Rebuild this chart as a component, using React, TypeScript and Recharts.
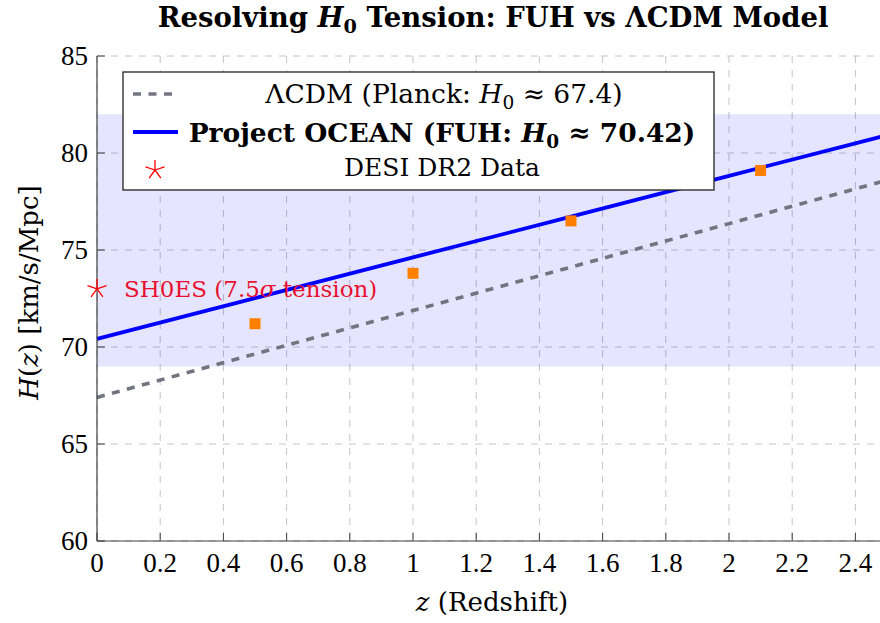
import React from 'react';
import { ComposedChart, Line, Scatter, XAxis, YAxis, CartesianGrid, ReferenceArea, Label } from 'recharts';

// axis ticks
const X_TICKS = [0, 0.2, 0.4, 0.6, 0.8, 1, 1.2, 1.4, 1.6, 1.8, 2, 2.2, 2.4];
const X_TICK_LABELS = ['0', '0.2', '0.4', '0.6', '0.8', '1', '1.2', '1.4', '1.6', '1.8', '2', '2.2', '2.4'];
const Y_TICKS = [60, 65, 70, 75, 80, 85];

// model curves
const Z_MODEL = [0, 0.5, 1, 1.5, 2, 2.5];
const H_LCDM = [67.4, 69.64, 71.88, 74.12, 76.36, 78.6];
const H_FUH = [70.42, 72.52, 74.62, 76.72, 78.82, 80.92];

// DESI DR2 points
const DESI_Z = [0.5, 1.0, 1.5, 2.1];
const DESI_H = [71.2, 73.8, 76.5, 79.1];

// SH0ES local measurement
const SHOES_Z = [0];
const SHOES_H = [73.0];

// shaded band
const BAND_LOW = 69;
const BAND_HIGH = 82;

const LEGEND_LABELS = ['ΛCDM (Planck: ', 'Project OCEAN (FUH: ', 'DESI DR2 Data'];
const LEGEND_VALUES = ['67.4', '70.42'];

const TEXT_FONT = '"DejaVu Serif", serif';
const TICK_FONT = '"Liberation Serif", serif';
const AXIS = '#404040';
const GRAY = '#747480';
const BLUE = '#0000ff';
const ORANGE = '#ff8000';
const RED = '#ff0000';
const TICK_LEN = 8;

const Star = ({ cx, cy, r }: { cx: number; cy: number; r: number }) => (
  <g>
    {[0, 1, 2, 3, 4].map((k) => {
      const a = ((-90 + 72 * k) * Math.PI) / 180;
      return (
        <line key={k} x1={cx} y1={cy} x2={cx + r * Math.cos(a)} y2={cy + r * Math.sin(a)}
          stroke={RED} strokeWidth={1.3} />
      );
    })}
  </g>
);

const BottomTick = (p: any) => {
  const i = X_TICKS.indexOf(p.payload.value);
  return (
    <g>
      <line x1={p.x} x2={p.x} y1={p.y} y2={p.y - TICK_LEN} stroke={AXIS} strokeWidth={1} />
      <text x={p.x} y={p.y + 31} textAnchor="middle" fontFamily={TICK_FONT} fontSize={27} fill="#000">
        {X_TICK_LABELS[i]}
      </text>
    </g>
  );
};

const TopTick = (p: any) => (
  <line x1={p.x} x2={p.x} y1={p.y} y2={p.y + TICK_LEN} stroke={AXIS} strokeWidth={1} />
);

const LeftTick = (p: any) => (
  <g>
    <line x1={p.x} x2={p.x + TICK_LEN} y1={p.y} y2={p.y} stroke={AXIS} strokeWidth={1} />
    <text x={p.x - 9} y={p.y + 9} textAnchor="end" fontFamily={TICK_FONT} fontSize={27} fill="#000">
      {p.payload.value}
    </text>
  </g>
);

const RightTick = (p: any) => (
  <line x1={p.x} x2={p.x - TICK_LEN} y1={p.y} y2={p.y} stroke={AXIS} strokeWidth={1} />
);

const XLabel = (props: any) => {
  const vb = props.viewBox;
  return (
    <text x={vb.x + vb.width / 2} y={vb.y + 70} textAnchor="middle" fontFamily={TEXT_FONT} fontSize={26} fill="#000">
      <tspan fontStyle="italic">z</tspan> (Redshift)
    </text>
  );
};

const YLabel = (props: any) => {
  const vb = props.viewBox;
  const cx = vb.x + 38;
  const cy = vb.y + vb.height / 2 - 6;
  return (
    <text x={cx} y={cy} textAnchor="middle" transform={`rotate(-90, ${cx}, ${cy})`}
      fontFamily={TEXT_FONT} fontSize={26} fill="#000">
      <tspan fontStyle="italic">H</tspan>(<tspan fontStyle="italic">z</tspan>) [km/s/Mpc]
    </text>
  );
};

const DesiSquare = (p: any) => (
  <rect x={p.cx - 5.5} y={p.cy - 5.5} width={11} height={11} fill={ORANGE} />
);

const ShoesMark = (p: any) => (
  <g>
    <Star cx={p.cx} cy={p.cy} r={10} />
    <text x={p.cx + 27} y={p.cy + 8} fontFamily={TEXT_FONT} fontSize={23} fill="#e8102e">
      SH0ES (7.5<tspan fontStyle="italic">σ</tspan> tension)
    </text>
  </g>
);

const H0 = ({ size }: { size: number }) => (
  <>
    <tspan fontStyle="italic">H</tspan>
    <tspan dy={size * 0.22} fontSize={size * 0.7}>0</tspan>
    <tspan dy={-size * 0.22}> </tspan>
  </>
);

export default function App() {
  const lcdm = Z_MODEL.map((z, i) => ({ z, h: H_LCDM[i] }));
  const fuh = Z_MODEL.map((z, i) => ({ z, h: H_FUH[i] }));
  const desi = DESI_Z.map((z, i) => ({ z, h: DESI_H[i] }));
  const shoes = SHOES_Z.map((z, i) => ({ z, h: SHOES_H[i] }));

  const axisLine = { stroke: AXIS, strokeWidth: 1.2 };

  return (
    <div style={{ position: 'absolute', left: 0, top: 0, width: 880, height: 623, overflow: 'hidden', background: '#fff' }}>
      <ComposedChart width={900} height={623} margin={{ top: 56, right: 13, bottom: 0, left: 0 }}>
        <ReferenceArea x1={0} x2={2.5} y1={BAND_LOW} y2={BAND_HIGH} fill={BLUE} fillOpacity={0.1} stroke="none" />
        <CartesianGrid stroke="#c4c4c4" strokeDasharray="7 7" strokeWidth={1} />
        <XAxis dataKey="z" type="number" domain={[0, 2.5]} ticks={X_TICKS} interval={0} height={82}
          tickSize={0} tickMargin={0} tickLine={false} axisLine={axisLine} tick={BottomTick}>
          <Label content={XLabel} />
        </XAxis>
        <XAxis xAxisId="top" orientation="top" dataKey="z" type="number" domain={[0, 2.5]} ticks={X_TICKS}
          interval={0} height={0} tickSize={0} tickMargin={0} tickLine={false} axisLine={axisLine} tick={TopTick} />
        <YAxis dataKey="h" type="number" domain={[60, 85]} ticks={Y_TICKS} interval={0} width={97}
          tickSize={0} tickMargin={0} tickLine={false} axisLine={axisLine} tick={LeftTick}>
          <Label content={YLabel} />
        </YAxis>
        <YAxis yAxisId="right" orientation="right" dataKey="h" type="number" domain={[60, 85]} ticks={Y_TICKS}
          interval={0} width={0} tickSize={0} tickMargin={0} tickLine={false} axisLine={axisLine} tick={RightTick} />
        <Scatter data={shoes} shape={ShoesMark} isAnimationActive={false} />
        <Line data={lcdm} dataKey="h" type="linear" stroke={GRAY} strokeWidth={3.6} strokeDasharray="8 7.5"
          dot={false} activeDot={false} isAnimationActive={false} />
        <Line data={fuh} dataKey="h" type="linear" stroke={BLUE} strokeWidth={3.8}
          dot={false} activeDot={false} isAnimationActive={false} />
        <Scatter data={desi} shape={DesiSquare} isAnimationActive={false} />
      </ComposedChart>

      <svg width={880} height={623} style={{ position: 'absolute', left: 0, top: 0, pointerEvents: 'none' }}>
        <text x={493} y={27} textAnchor="middle" fontFamily={TEXT_FONT} fontSize={27.5} fontWeight="bold" fill="#000">
          Resolving <H0 size={27.5} />Tension: FUH vs ΛCDM Model
        </text>

        <rect x={123} y={72} width={591} height={118} fill="#fff" stroke="#222" strokeWidth={1.3} />
        <line x1={133} x2={174} y1={94} y2={94} stroke={GRAY} strokeWidth={3.6} strokeDasharray="8 7.5" />
        <text x={444} y={103} textAnchor="middle" fontFamily={TEXT_FONT} fontSize={26.5} fill="#000">
          {LEGEND_LABELS[0]}<H0 size={26.5} />≈ {LEGEND_VALUES[0]})
        </text>
        <line x1={133} x2={178} y1={132} y2={132} stroke={BLUE} strokeWidth={3.8} />
        <text x={442} y={142} textAnchor="middle" fontFamily={TEXT_FONT} fontSize={26.5} fontWeight="bold" fill="#000">
          {LEGEND_LABELS[1]}<H0 size={26.5} />≈ {LEGEND_VALUES[1]})
        </text>
        <Star cx={155} cy={170} r={10} />
        <text x={442} y={176} textAnchor="middle" fontFamily={TEXT_FONT} fontSize={25} fill="#000">
          {LEGEND_LABELS[2]}
        </text>
      </svg>
    </div>
  );
}
